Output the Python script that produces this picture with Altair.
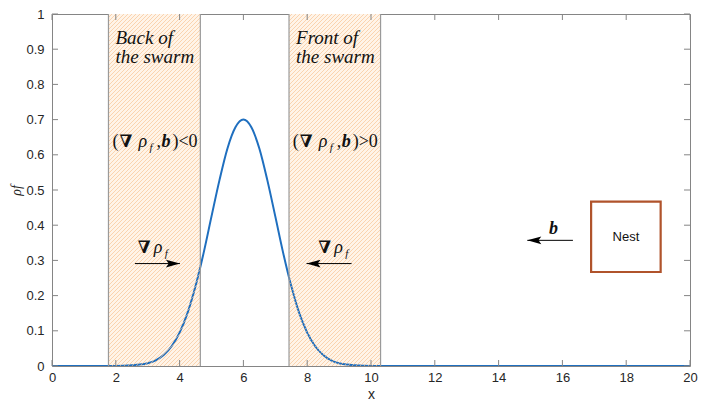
import altair as alt
import pandas as pd

W, H = 638, 352

# ---- data ----
curve_x = [0, 1, 2, 2.5, 2.75, 3.0, 3.25, 3.5, 3.75, 4.0, 4.25, 4.5, 4.75, 5.0,
           5.25, 5.5, 5.75, 6.0, 6.25, 6.5, 6.75, 7.0, 7.25, 7.5, 7.75, 8.0,
           8.25, 8.5, 8.75, 9.0, 9.25, 9.5, 10, 11, 12, 14, 16, 18, 20]
curve_y = [0, 0, 0, 0.002, 0.004, 0.008, 0.016, 0.031, 0.056, 0.095, 0.151,
           0.227, 0.320, 0.425, 0.528, 0.618, 0.678, 0.700, 0.678, 0.618, 0.528,
           0.425, 0.320, 0.227, 0.151, 0.095, 0.056, 0.031, 0.016, 0.008, 0.004,
           0.002, 0, 0, 0, 0, 0, 0, 0]

region_x0 = [1.77, 7.43]
region_x1 = [4.65, 10.30]

x_ticks = [0, 2, 4, 6, 8, 10, 12, 14, 16, 18, 20]
y_ticks = [0, 0.1, 0.2, 0.3, 0.4, 0.5, 0.6, 0.7, 0.8, 0.9, 1]

title_lines = ["Back of", "the swarm", "Front of", "the swarm"]
title_x = [1.99, 1.99, 7.65, 7.65]
title_y = [0.915, 0.860, 0.915, 0.860]

ip_x = [1.90, 7.55]
ip_y = [0.621, 0.621]
ip_sign = ["<", ">"]

grad_x0 = [2.60, 9.39]
grad_x1 = [4.01, 7.98]
grad_y = [0.291, 0.291]
grad_label_x = [2.69, 8.35]
grad_label_y = [0.321, 0.321]

b_x0 = [16.33]
b_x1 = [14.90]
b_y = [0.357]
b_label_x = [15.72]
b_label_y = [0.376]

nest_x0 = [16.90]
nest_x1 = [19.08]
nest_y0 = [0.267]
nest_y1 = [0.467]
nest_label = ["Nest"]

# ---- styling ----
GRAY = "#858585"
BLUE = "#1f6fbf"
SERIF = "Liberation Serif"
SANS = "Liberation Sans"

xs = alt.Scale(domain=[0, 20], nice=False, zero=False)
ys = alt.Scale(domain=[0, 1], nice=False, zero=False)
xaxis = alt.Axis(values=x_ticks, format="~g", tickSize=0, domain=False, grid=False,
                 labelPadding=5, labelFontSize=13, labelFont=SANS, labelColor="#262626",
                 labelFlush=False, title="x", titleFont=SANS, titleFontSize=14,
                 titleFontWeight="normal", titleColor="#262626", titlePadding=3)
yaxis = alt.Axis(values=y_ticks, format="~g", tickSize=0, domain=False, grid=False,
                 labelPadding=8, labelFontSize=13, labelFont=SANS, labelColor="#262626",
                 labelFlush=False, title="ρf", titleFont=SERIF, titleFontSize=14,
                 titleFontStyle="italic", titleFontWeight="normal", titleColor="#262626",
                 titlePadding=2)


def X(f):
    return alt.X(f, type="quantitative", scale=xs, axis=xaxis)


def Y(f):
    return alt.Y(f, type="quantitative", scale=ys, axis=yaxis)


regions = pd.DataFrame({"x0": region_x0, "x1": region_x1, "y0": [0, 0], "y1": [1, 1]})

fill = alt.Chart(regions).mark_rect(fill="#fff4e8", strokeWidth=0).encode(
    x=X("x0"), x2="x1", y=Y("y0"), y2="y1")

curve = alt.Chart(pd.DataFrame({"x": curve_x, "y": curve_y})).mark_line(
    color=BLUE, strokeWidth=2, interpolate="monotone", clip=True).encode(x=X("x"), y=Y("y"))

# diagonal hatch lines inside the two regions (45 degrees in screen space),
# on one common lattice so both regions look the same
sx = W / 20.0
STEP = 4.0
hatch = []
for a, b in zip(region_x0, region_x1):
    pa, pb = a * sx, b * sx
    k = int((pa - H) // STEP)
    c = k * STEP
    while c < pb:
        t0, t1 = max(pa, c), min(pb, c + H)
        if t1 > t0:
            hatch.append({"x": t0 / sx, "y": (t0 - c) / H, "x2": t1 / sx, "y2": (t1 - c) / H})
        c += STEP
hatch_layer = alt.Chart(pd.DataFrame(hatch)).mark_rule(
    color="#f7c08c", strokeWidth=0.7, opacity=0.9).encode(
    x=X("x"), y=Y("y"), x2="x2", y2="y2")

borders = alt.Chart(pd.DataFrame({"x": region_x0 + region_x1})).mark_rule(
    color="#9a9a9a", strokeWidth=1.2).encode(x=X("x"))

# inward ticks on all four sides
xt = pd.DataFrame({"x": x_ticks})
yt = pd.DataFrame({"y": y_ticks})
tick_bottom = alt.Chart(xt).mark_rule(color=GRAY, strokeWidth=1).encode(
    x=X("x"), y=alt.value(H), y2=alt.value(H - 6))
tick_top = alt.Chart(xt).mark_rule(color=GRAY, strokeWidth=1).encode(
    x=X("x"), y=alt.value(0), y2=alt.value(6))
tick_left = alt.Chart(yt).mark_rule(color=GRAY, strokeWidth=1).encode(
    y=Y("y"), x=alt.value(0), x2=alt.value(6))
tick_right = alt.Chart(yt).mark_rule(color=GRAY, strokeWidth=1).encode(
    y=Y("y"), x=alt.value(W), x2=alt.value(W - 6))

layers = [fill, curve, hatch_layer, borders, tick_bottom, tick_top, tick_left, tick_right]

# region titles
layers.append(alt.Chart(pd.DataFrame({"x": title_x, "y": title_y, "t": title_lines})).mark_text(
    align="left", baseline="alphabetic", font=SERIF, fontSize=19, fontStyle="italic",
    color="#111111").encode(x=X("x"), y=Y("y"), text="t:N"))

# (∇ρ_f, b) < 0 / > 0
ip_df = pd.DataFrame({"x": ip_x, "y": ip_y, "s": ip_sign})
pieces = [("(", 0, 0, SERIF, 18, "normal", "normal"),
          ("∇", 7, 0, "DejaVu Serif", 17, "normal", "bold"),
          ("ρ", 26, 0, SERIF, 18, "italic", "normal"),
          ("f", 37, 4, SERIF, 11, "italic", "normal"),
          (",", 44, 0, SERIF, 18, "normal", "normal"),
          ("b", 49, 0, SERIF, 18, "italic", "bold"),
          (")", 60, 0, SERIF, 18, "normal", "normal"),
          ("0", 76, 0, SERIF, 18, "normal", "normal")]
for txt, dx, dy, font, size, style, weight in pieces:
    layers.append(alt.Chart(ip_df).mark_text(
        text=txt, align="left", baseline="alphabetic", dx=dx, dy=dy, font=font,
        fontSize=size, fontStyle=style, fontWeight=weight, color="#111111").encode(
        x=X("x"), y=Y("y")))
layers.append(alt.Chart(ip_df).mark_text(
    align="left", baseline="alphabetic", dx=66, font=SERIF, fontSize=18,
    color="#111111").encode(x=X("x"), y=Y("y"), text="s:N"))

# gradient labels ∇ρ_f
gl_df = pd.DataFrame({"x": grad_label_x, "y": grad_label_y})
for txt, dx, dy, font, size, style, weight in [
        ("∇", 0, 0, "DejaVu Serif", 17, "normal", "bold"),
        ("ρ", 16, 0, SERIF, 18, "italic", "normal"),
        ("f", 27, 4, SERIF, 11, "italic", "normal")]:
    layers.append(alt.Chart(gl_df).mark_text(
        text=txt, align="left", baseline="alphabetic", dx=dx, dy=dy, font=font,
        fontSize=size, fontStyle=style, fontWeight=weight, color="#111111").encode(
        x=X("x"), y=Y("y")))

# arrows
arrows = pd.DataFrame({"x0": grad_x0 + b_x0, "x1": grad_x1 + b_x1, "y": grad_y + b_y,
                       "dir": ["r", "l", "l"]})
layers.append(alt.Chart(arrows).mark_rule(color="black", strokeWidth=1).encode(
    x=X("x0"), x2="x1", y=Y("y")))
RIGHT_HEAD = "M0,0 L-2,-0.55 L-1.6,0 L-2,0.55 Z"
LEFT_HEAD = "M0,0 L2,-0.55 L1.6,0 L2,0.55 Z"
layers.append(alt.Chart(arrows[arrows["dir"] == "r"]).mark_point(
    shape=RIGHT_HEAD, size=196, filled=True, color="black", opacity=1, strokeWidth=0).encode(
    x=X("x1"), y=Y("y")))
layers.append(alt.Chart(arrows[arrows["dir"] == "l"]).mark_point(
    shape=LEFT_HEAD, size=196, filled=True, color="black", opacity=1, strokeWidth=0).encode(
    x=X("x1"), y=Y("y")))

# b label
layers.append(alt.Chart(pd.DataFrame({"x": b_label_x, "y": b_label_y})).mark_text(
    text="b", align="center", baseline="alphabetic", font=SERIF, fontSize=18,
    fontStyle="italic", fontWeight="bold", color="#111111").encode(x=X("x"), y=Y("y")))

# nest box
nest = pd.DataFrame({"x0": nest_x0, "x1": nest_x1, "y0": nest_y0, "y1": nest_y1,
                     "t": nest_label})
nest["xc"] = (nest["x0"] + nest["x1"]) / 2
nest["yc"] = (nest["y0"] + nest["y1"]) / 2
layers.append(alt.Chart(nest).mark_rect(fill="white", stroke="#b0532b", strokeWidth=2.2).encode(
    x=X("x0"), x2="x1", y=Y("y0"), y2="y1"))
layers.append(alt.Chart(nest).mark_text(font=SANS, fontSize=13, color="#111111",
                                        baseline="middle", align="center").encode(
    x=X("xc"), y=Y("yc"), text="t:N"))

chart = alt.layer(*layers).properties(
    width=W, height=H,
    autosize=alt.AutoSizeParams(type="none"),
    padding={"left": 44, "top": 6, "right": 10, "bottom": 34},
    background="white",
).configure_view(stroke=GRAY, strokeWidth=1)

chart.save("out.html", embed_options={"renderer": "svg", "actions": False})
